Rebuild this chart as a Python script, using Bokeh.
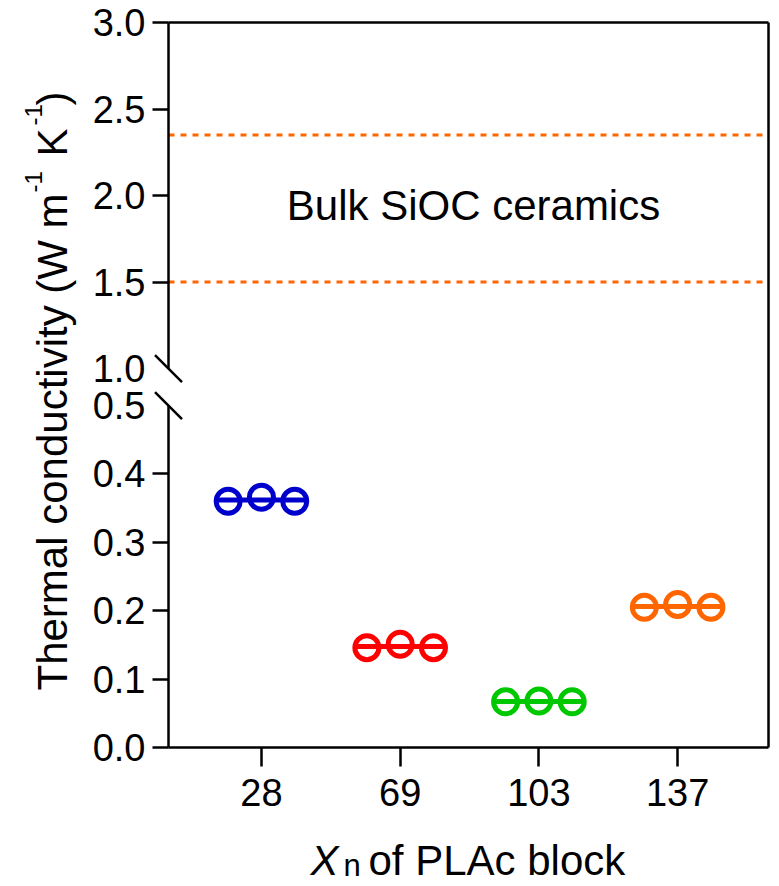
from math import pi
from bokeh.plotting import figure
from bokeh.models import FixedTicker, Span, ColumnDataSource, LinearAxis
from bokeh.core.properties import value
from bokeh.embed import file_html
from bokeh.resources import INLINE

# ---------------- data ----------------
xn_labels = ["28", "69", "103", "137"]
x_pos = [1, 2, 3, 4]
k_rep1 = [0.360, 0.146, 0.067, 0.205]
k_rep2 = [0.366, 0.151, 0.068, 0.209]
k_rep3 = [0.360, 0.146, 0.067, 0.205]
colors = ["#0000CC", "#FF0000", "#00C800", "#FF6600"]
bulk_sioc = [1.50, 2.35]
y_ticks_lower = [0.0, 0.1, 0.2, 0.3, 0.4, 0.5]
y_ticks_upper = [1.0, 1.5, 2.0, 2.5, 3.0]
y_break = [0.5, 1.0]

# ---------------- broken-axis mapping ----------------
GAP = 0.0541
UPPER = 0.2529


def ty(v):
    return v if v <= y_break[0] else y_break[0] + GAP + (v - y_break[1]) * UPPER


FONT = "Liberation Sans"
X0, X1 = 0.33, 4.655
Y0, Y1 = 0.0, 1.06
FW, FH = 600, 725
FL, FT = 168, 22  # frame left/top in page pixels
BASE = 0.357      # baseline correction (fraction of font size)


def px2x(px):
    return X0 + (px - FL) * (X1 - X0) / FW


def py2y(py):
    return Y0 + (FT + FH - py) * (Y1 - Y0) / FH


p = figure(frame_width=FW, frame_height=FH, x_range=(X0, X1), y_range=(Y0, Y1),
           output_backend="svg", toolbar_location=None, title=None,
           min_border_left=FL, min_border_right=11, min_border_top=FT, min_border_bottom=138)
p.outline_line_color = None
p.xgrid.visible = False
p.ygrid.visible = False
p.background_fill_color = "white"
p.border_fill_color = "white"

# x axis
xa = p.xaxis[0]
xa.ticker = FixedTicker(ticks=x_pos)
xa.major_label_overrides = {x: lab for x, lab in zip(x_pos, xn_labels)}
xa.axis_line_width = 2.5
xa.axis_line_color = "black"
xa.major_tick_line_width = 2.5
xa.major_tick_out = 19
xa.major_tick_in = 0
xa.minor_tick_line_color = None
xa.major_label_text_font = FONT
xa.major_label_text_font_size = "38px"
xa.major_label_text_color = "black"
xa.major_label_standoff = 12

# y axis
ya = p.yaxis[0]
all_ticks = y_ticks_lower + y_ticks_upper
marked = [v for v in all_ticks if v not in y_break]
ya.ticker = FixedTicker(ticks=[ty(v) for v in all_ticks], minor_ticks=[ty(v) for v in marked])
ya.major_label_overrides = {ty(v): f"{v:.1f}" for v in all_ticks}
ya.axis_line_color = None
ya.major_tick_line_color = None
ya.major_tick_out = 16
ya.major_tick_in = 0
ya.minor_tick_line_color = "black"
ya.minor_tick_line_width = 2.5
ya.minor_tick_out = 16
ya.minor_tick_in = 0
ya.major_label_text_font = FONT
ya.major_label_text_font_size = "38px"
ya.major_label_text_color = "black"
ya.major_label_standoff = 7

# top and right frame borders as bare axes
for side in ("above", "right"):
    ax = LinearAxis(ticker=FixedTicker(ticks=[]), axis_line_width=2.5, axis_line_color="black",
                    major_tick_line_color=None, minor_tick_line_color=None,
                    major_label_text_font_size="0px", major_tick_out=0, minor_tick_out=0)
    p.add_layout(ax, side)

# left axis line with break marks
x_lo = X0
y_top = ty(y_ticks_upper[-1])
dx = 13.5 * (X1 - X0) / FW
dy = 13.5 * (Y1 - Y0) / FH
lx0 = [x_lo, x_lo] + [x_lo - dx for b in y_break]
lx1 = [x_lo, x_lo] + [x_lo + dx for b in y_break]
ly0 = [ty(y_break[1]), 0.0] + [ty(b) + dy for b in y_break]
ly1 = [y_top, ty(y_break[0])] + [ty(b) - dy for b in y_break]
p.segment(x0=lx0, y0=ly0, x1=lx1, y1=ly1, line_color="black", line_width=2.5, level="overlay")

# bulk SiOC dotted lines
for v in bulk_sioc:
    p.add_layout(Span(location=ty(v), dimension="width", line_color="#FF6600",
                      line_width=3, line_dash="6 6"))


def htext(txt, px, baseline_py, fs, style="normal", align="left"):
    p.text(x=[px2x(px)], y=[py2y(baseline_py - BASE * fs)], text=[txt],
           text_align=align, text_baseline="alphabetic",
           text_font=value(FONT), text_font_size=f"{fs}px", text_font_style=style,
           text_color="black", level="overlay")


def vtext(txt, baseline_px, start_py, fs):
    p.text(x=[px2x(baseline_px - BASE * fs)], y=[py2y(start_py)], text=[txt], angle=pi / 2,
           text_align="left", text_baseline="alphabetic",
           text_font=value(FONT), text_font_size=f"{fs}px",
           text_color="black", level="overlay")


htext("Bulk SiOC ceramics", 473, 220, 42, align="center")

# data points
offsets = [-0.24, 0.0, 0.24]
xs, ys, cs = [], [], []
mx0, mx1, my, mc = [], [], [], []
for i in range(len(x_pos)):
    reps = [k_rep1[i], k_rep2[i], k_rep3[i]]
    for o, v in zip(offsets, reps):
        xs.append(x_pos[i] + o)
        ys.append(ty(v))
        cs.append(colors[i])
    mx0.append(x_pos[i] - 0.33)
    mx1.append(x_pos[i] + 0.33)
    my.append(ty(sum(reps) / 3))
    mc.append(colors[i])

src = ColumnDataSource(dict(x=xs, y=ys, c=cs))
p.scatter("x", "y", source=src, size=24, fill_color=None, line_color="c", line_width=5)
msrc = ColumnDataSource(dict(x0=mx0, x1=mx1, y=my, c=mc))
p.segment(x0="x0", y0="y", x1="x1", y1="y", source=msrc, line_color="c", line_width=5)

# y axis title (rotated, with superscripts)
vtext("Thermal conductivity (W m", 67, 690, 42)
vtext("-1", 42, 192, 24)
vtext("K", 67, 156, 42)
vtext("-1", 42, 125, 24)
vtext(")", 67, 105, 42)

# x axis title
htext("X", 310, 875, 42, style="italic")
htext("n", 343, 876, 31)
htext("of PLAc block", 368, 875, 42)

open("out.html", "w").write(file_html(p, INLINE))
